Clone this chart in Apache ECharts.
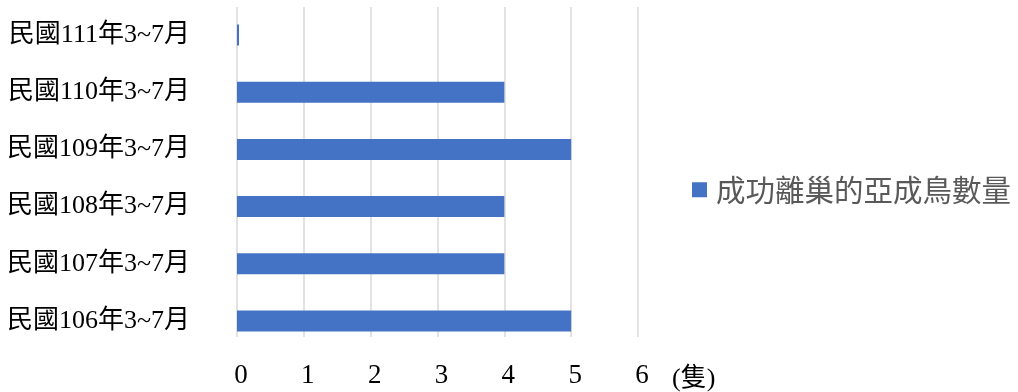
<!DOCTYPE html>
<html>
<head>
<meta charset="utf-8">
<script src="https://cdn.jsdelivr.net/npm/echarts@6/dist/echarts.min.js"></script>
<style>
  html, body { margin: 0; padding: 0; background: #ffffff; }
  #chart { width: 1018px; height: 392px; }
</style>
</head>
<body>
<div id="chart"></div>
<script>
// Fledged juvenile counts, March–July of each year (bottom to top)
const categories = ['民國106年3~7月', '民國107年3~7月', '民國108年3~7月', '民國109年3~7月', '民國110年3~7月', '民國111年3~7月'];
const fledgedCounts = [5, 4, 4, 5, 4, 0];
const seriesName = '成功離巢的亞成鳥數量';
const unitName = '(隻)';
const xMin = 0, xMax = 6, xStep = 1;

const serifFont = '"Liberation Serif", "Noto Sans CJK TC", serif';
const sansFont = '"Noto Sans CJK TC", "Noto Sans", sans-serif';

const chart = echarts.init(document.getElementById('chart'), null, { renderer: 'canvas' });

chart.setOption({
  animation: false,
  backgroundColor: '#ffffff',
  grid: [
    // bars and category labels
    { left: 237, top: 6.4, width: 401, height: 343.2, containLabel: false, outerBoundsMode: 'none' },
    // vertical gridlines and value labels
    { left: 237, top: 7, width: 401, height: 330, containLabel: false, outerBoundsMode: 'none' }
  ],
  legend: {
    data: [seriesName],
    orient: 'vertical',
    left: 692,
    top: 175,
    padding: 0,
    itemWidth: 15,
    itemHeight: 15,
    icon: 'rect',
    textStyle: {
      fontFamily: sansFont,
      fontSize: 29.5,
      color: '#595959',
      padding: [0, 0, 0, 4]
    }
  },
  xAxis: [
    {
      gridIndex: 0,
      type: 'value',
      min: xMin, max: xMax, interval: xStep,
      show: false
    },
    {
      gridIndex: 1,
      type: 'value',
      min: xMin, max: xMax, interval: xStep,
      axisLine: { show: false },
      axisTick: { show: false },
      splitLine: { show: true, lineStyle: { color: '#d9d9d9', width: 1.5 } },
      axisLabel: {
        margin: 25,
        fontFamily: serifFont,
        fontSize: 27,
        color: '#000000',
        padding: [0, 0, 0, 8]
      },
      name: unitName,
      nameLocation: 'end',
      nameGap: 34,
      nameTextStyle: {
        fontFamily: serifFont,
        fontSize: 26,
        color: '#000000',
        verticalAlign: 'top',
        padding: [29, 0, 0, 0]
      }
    }
  ],
  yAxis: [
    {
      gridIndex: 0,
      type: 'category',
      data: categories,
      axisLine: { show: false },
      axisTick: { show: false },
      splitLine: { show: false },
      axisLabel: {
        margin: 47,
        fontFamily: serifFont,
        fontSize: 26,
        color: '#000000'
      }
    },
    {
      gridIndex: 1,
      type: 'value',
      show: false
    }
  ],
  series: [
    {
      name: seriesName,
      type: 'bar',
      xAxisIndex: 0,
      yAxisIndex: 0,
      data: fledgedCounts,
      barWidth: 21,
      barMinHeight: 2,
      itemStyle: { color: '#4472c4' }
    }
  ]
});
</script>
</body>
</html>
